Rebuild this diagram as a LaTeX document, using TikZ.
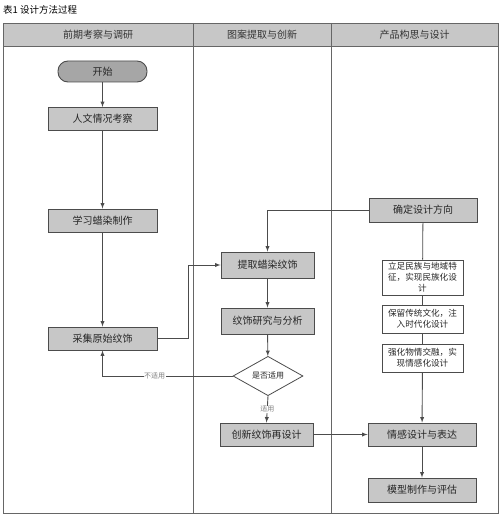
\documentclass[tikz,border=0pt]{standalone}
\usepackage{fontspec}
\setmainfont{Noto Sans CJK SC}
\usetikzlibrary{shapes.geometric}

\tikzset{
  box/.style={draw=black!70,fill=black!22,line width=.9pt,minimum width=109pt,minimum height=23pt,inner sep=0pt,text=black!85,font=\fontsize{10}{11}\selectfont},
  note/.style={draw=black!70,fill=white,line width=.8pt,minimum width=81pt,inner sep=0pt,align=center,text=black!85,font=\fontsize{8.6}{10.8}\selectfont},
  arr/.style={draw=black!70,line width=.9pt,-latex},
  lbl/.style={fill=white,inner sep=.5pt,text=black!50,font=\fontsize{7}{7.5}\selectfont}
}

\begin{document}
\begin{tikzpicture}[x=1pt,y=-1pt]
\useasboundingbox (0,0) rectangle (500,516);
\def\ytop{23}
\def\ybot{513}

% title
\node[anchor=west,inner sep=0pt,font=\fontsize{9.5}{10}\selectfont] (title) at (3,10) {表1 设计方法过程};

% lanes
\draw[black!60,line width=.9pt,fill=black!22] (3,\ytop) rectangle (498,46);
\draw[black!60,line width=.9pt] (3,\ytop) rectangle (498,\ybot);
\draw[black!60,line width=.9pt] (193,\ytop) -- (193,\ybot);
\draw[black!60,line width=.9pt] (331,\ytop) -- (331,\ybot);
\node[text=black!80,font=\fontsize{10}{11}\selectfont] (lane1) at (98,34.5) {前期考察与调研};
\node[text=black!80,font=\fontsize{10}{11}\selectfont] (lane2) at (262,34.5) {图案提取与创新};
\node[text=black!80,font=\fontsize{10}{11}\selectfont] (lane3) at (414.5,34.5) {产品构思与设计};

% first lane
\node[box,fill=black!35,rounded corners=10pt,minimum width=89pt,minimum height=21pt] (start) at (102.5,71.5) {开始};
\node[box] (renwen) at (102.5,119) {人文情况考察};
\node[box] (xuexi) at (102.5,220.5) {学习蜡染制作};
\node[box] (caiji) at (102.5,338.5) {采集原始纹饰};

% second lane
\node[box,minimum width=93pt,minimum height=26pt] (tiqu) at (267.5,265) {提取蜡染纹饰};
\node[box,minimum width=93pt,minimum height=26pt] (yanjiu) at (267.5,321) {纹饰研究与分析};
\node[draw=black!70,fill=white,line width=.8pt,diamond,minimum width=70pt,minimum height=34pt,inner sep=0pt,text=black!85,font=\fontsize{8}{9}\selectfont] (shiyong) at (268,376) {是否适用};
\node[box,minimum width=93pt] (chuangxin) at (266.5,434.5) {创新纹饰再设计};

% third lane
\node[box,minimum width=108pt,minimum height=24pt] (fangxiang) at (423,210) {确定设计方向};
\node[note,minimum height=35pt] (minzu) at (422.5,277.5) {立足民族与地域特\\征，实现民族化设\\计};
\node[note,minimum height=28pt] (shidai) at (422.5,319) {保留传统文化，注\\入时代化设计};
\node[note,minimum height=28pt] (qinggan) at (422.5,358) {强化物情交融，实\\现情感化设计};
\node[box,minimum width=108pt] (biaoda) at (422,434.5) {情感设计与表达};
\node[box,minimum width=108pt,minimum height=24pt] (moxing) at (422,490) {模型制作与评估};

% connectors
\draw[arr] (start) -- (renwen);
\draw[arr] (renwen) -- (xuexi);
\draw[arr] (xuexi) -- (caiji);
\draw[arr] (caiji.east) -- ++(31,0) |- (tiqu.west);
\draw[arr] (fangxiang.west) -| (tiqu.north);
\draw[arr] (tiqu) -- (yanjiu);
\draw[arr] (yanjiu) -- (shiyong);
\draw[arr] (shiyong.west) -| node[lbl,pos=.3] {不适用} (caiji.south);
\draw[arr] (shiyong.south) -- node[lbl] {适用} (chuangxin.north);
\draw[arr] (chuangxin) -- (biaoda);
\draw[draw=black!70,line width=.8pt] (fangxiang) -- (minzu);
\draw[draw=black!70,line width=.8pt] (minzu) -- (shidai);
\draw[draw=black!70,line width=.8pt] (shidai) -- (qinggan);
\draw[arr] (qinggan) -- (biaoda);
\draw[arr] (biaoda) -- (moxing);
\end{tikzpicture}
\end{document}
